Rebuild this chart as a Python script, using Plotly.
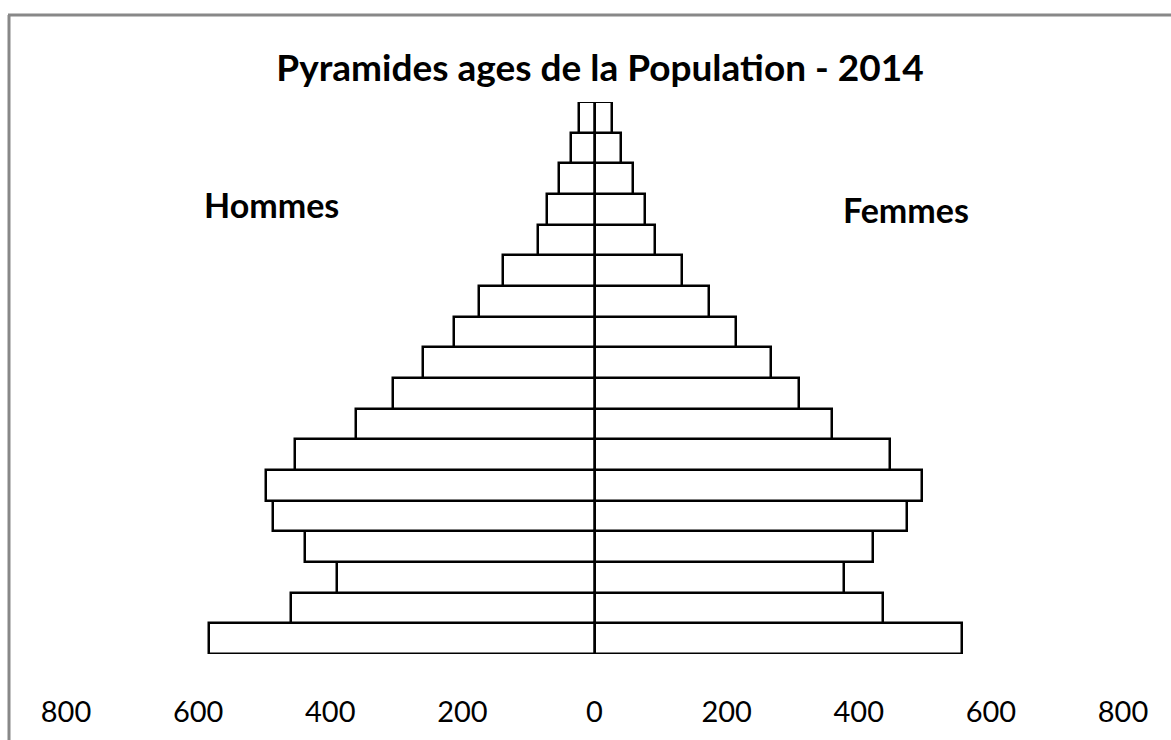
import plotly.graph_objects as go

age_groups = ["0-4", "5-9", "10-14", "15-19", "20-24", "25-29", "30-34", "35-39",
              "40-44", "45-49", "50-54", "55-59", "60-64", "65-69", "70-74",
              "75-79", "80-84", "85+"]
hommes = [583, 460, 390, 438, 486, 497, 453, 361, 305, 260, 212, 175, 138, 86, 72, 53, 35, 24]
femmes = [556, 437, 377, 422, 473, 496, 448, 359, 310, 267, 214, 173, 132, 92, 77, 58, 40, 26]
tick_vals = [-800, -600, -400, -200, 0, 200, 400, 600, 800]
tick_text = ["800", "600", "400", "200", "0", "200", "400", "600", "800"]

W, H = 1171, 740
L, R, T, B = 66, 48, 102.3, 84.3
pw, ph = W - L - R, H - T - B

def px(x):
    return (x - L) / pw

def py(y):
    return (H - B - y) / ph

fig = go.Figure()
fig.add_trace(go.Bar(y=age_groups, x=[-v for v in hommes], orientation="h",
                     marker=dict(color="white", line=dict(color="black", width=2.5)),
                     name="Hommes", hoverinfo="skip"))
fig.add_trace(go.Bar(y=age_groups, x=femmes, orientation="h",
                     marker=dict(color="white", line=dict(color="black", width=2.5)),
                     name="Femmes", hoverinfo="skip"))

fig.update_layout(
    width=W, height=H,
    margin=dict(l=L, r=R, t=T, b=B),
    barmode="relative", bargap=0,
    paper_bgcolor="white", plot_bgcolor="white",
    showlegend=False,
    font=dict(family="Lato, Open Sans, sans-serif", color="black"),
    title=dict(text="<b>Pyramides ages de la Population - 2014</b>",
               x=600 / W, xref="container", xanchor="center",
               y=1 - 68 / H, yref="container", yanchor="middle",
               font=dict(size=37, family="Lato, sans-serif", color="black")),
    xaxis=dict(range=[-800, 800], tickvals=tick_vals, ticktext=tick_text,
               showgrid=False, zeroline=True, zerolinecolor="black", zerolinewidth=2.5,
               showline=False, ticks="", ticklabelstandoff=38,
               tickfont=dict(size=29, family="Lato, sans-serif", color="black"),
               fixedrange=True),
    yaxis=dict(range=[-0.5, len(age_groups) - 0.5], showticklabels=False,
               showgrid=False, zeroline=False, showline=False, ticks="",
               fixedrange=True),
    annotations=[
        dict(text="<b>Hommes</b>", x=px(271.5), y=py(205), xref="paper", yref="paper",
             showarrow=False, xanchor="center", yanchor="middle",
             font=dict(size=34, family="Lato, sans-serif", color="black")),
        dict(text="<b>Femmes</b>", x=px(906), y=py(210), xref="paper", yref="paper",
             showarrow=False, xanchor="center", yanchor="middle",
             font=dict(size=34, family="Lato, sans-serif", color="black")),
    ],
    shapes=[
        dict(type="line", xref="paper", yref="paper", x0=px(8), x1=px(1180),
             y0=py(15), y1=py(15), line=dict(color="#888888", width=3)),
        dict(type="line", xref="paper", yref="paper", x0=px(9), x1=px(9),
             y0=py(15), y1=py(750), line=dict(color="#888888", width=3)),
    ],
)

fig.write_html("out.html", config={"displayModeBar": False},
               post_script="document.body.style.margin='0';document.body.style.overflow='hidden';")
